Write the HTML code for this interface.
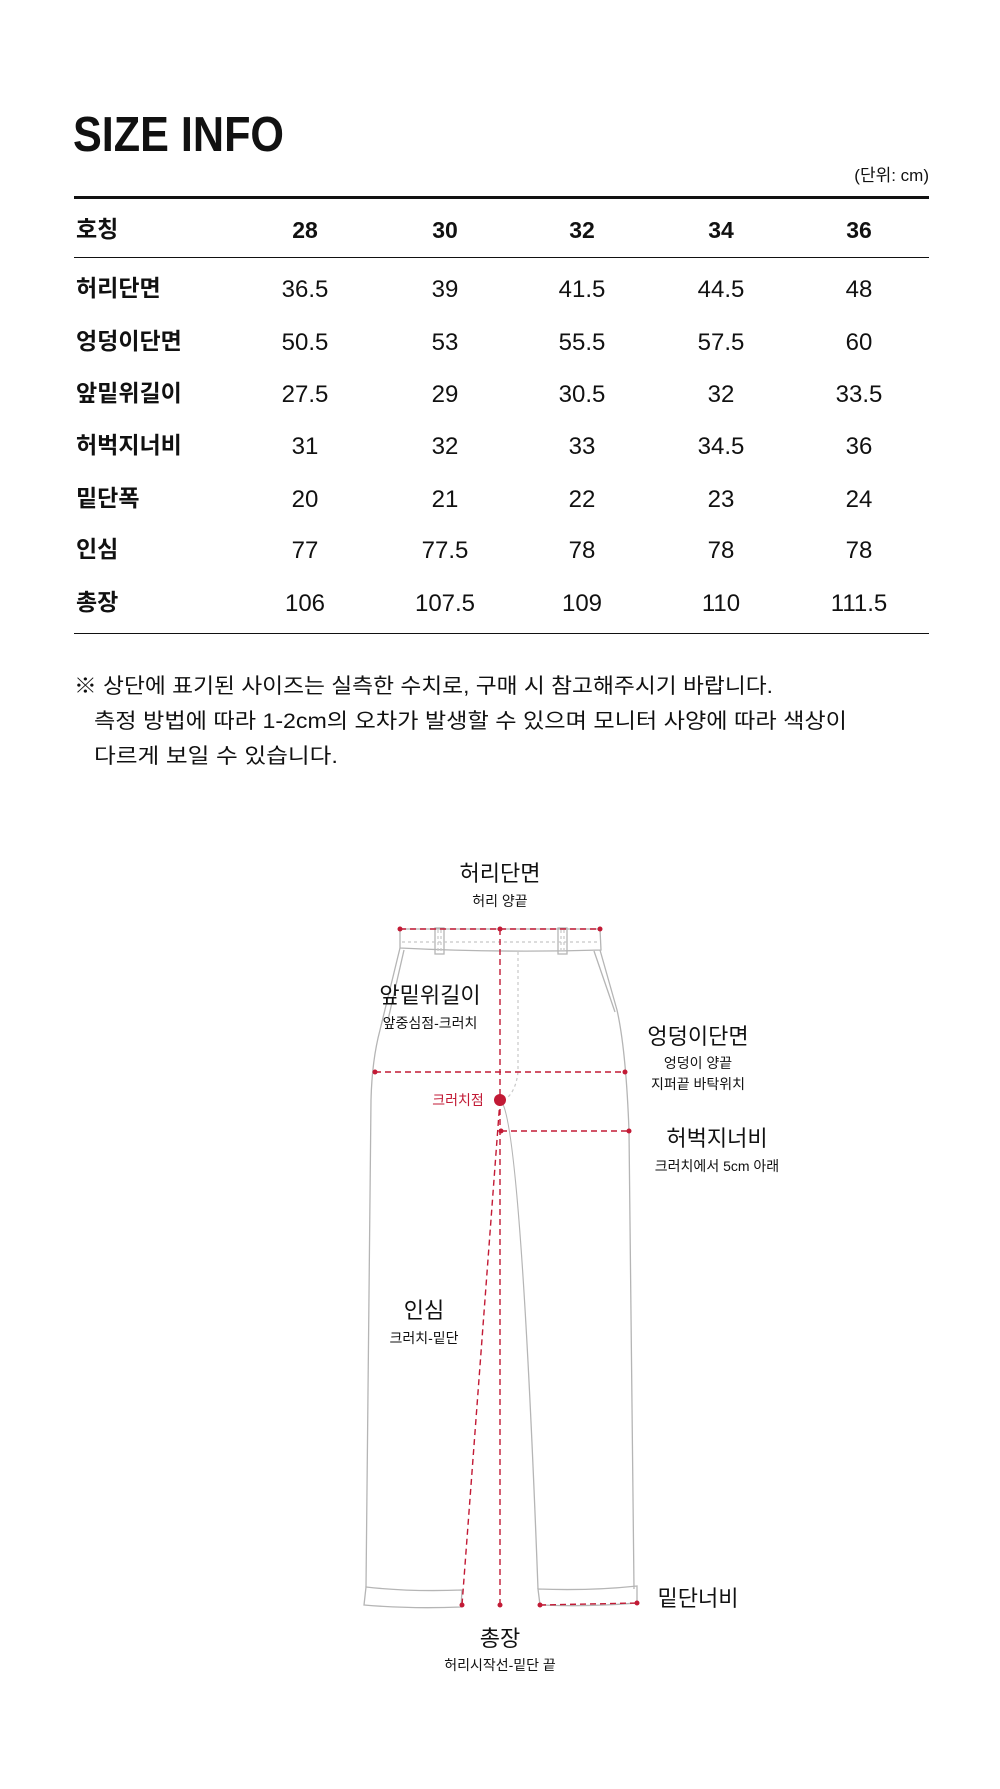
<!DOCTYPE html>
<html><head><meta charset="utf-8"><style>
html,body{margin:0;padding:0;background:#fff}
svg{display:block}
text{font-family:"Liberation Sans","Noto Sans CJK KR",sans-serif;fill:#111}
</style></head><body>
<svg width="1000" height="1789" viewBox="0 0 1000 1789" xmlns="http://www.w3.org/2000/svg">
<text x="73" y="151" font-size="49" font-weight="bold" textLength="211" lengthAdjust="spacingAndGlyphs">SIZE INFO</text>
<text x="929" y="181" font-size="17" text-anchor="end">(단위: cm)</text>
<rect x="74" y="196" width="855" height="3" fill="#111"/>
<g font-size="23">
<text x="76" y="237" font-weight="bold">호칭</text>
<g font-weight="bold" text-anchor="middle">
<text x="305" y="238">28</text><text x="445" y="238">30</text><text x="582" y="238">32</text><text x="721" y="238">34</text><text x="859" y="238">36</text>
</g>
</g>
<rect x="74" y="257" width="855" height="1" fill="#111"/>
<g font-size="24">
<g font-weight="bold" font-size="23">
<text x="76" y="296">허리단면</text>
<text x="76" y="349">엉덩이단면</text>
<text x="76" y="401">앞밑위길이</text>
<text x="76" y="453">허벅지너비</text>
<text x="76" y="506">밑단폭</text>
<text x="76" y="557">인심</text>
<text x="76" y="610">총장</text>
</g>
<g text-anchor="middle" fill="#222">
<text x="305" y="297">36.5</text><text x="445" y="297">39</text><text x="582" y="297">41.5</text><text x="721" y="297">44.5</text><text x="859" y="297">48</text>
<text x="305" y="350">50.5</text><text x="445" y="350">53</text><text x="582" y="350">55.5</text><text x="721" y="350">57.5</text><text x="859" y="350">60</text>
<text x="305" y="402">27.5</text><text x="445" y="402">29</text><text x="582" y="402">30.5</text><text x="721" y="402">32</text><text x="859" y="402">33.5</text>
<text x="305" y="454">31</text><text x="445" y="454">32</text><text x="582" y="454">33</text><text x="721" y="454">34.5</text><text x="859" y="454">36</text>
<text x="305" y="507">20</text><text x="445" y="507">21</text><text x="582" y="507">22</text><text x="721" y="507">23</text><text x="859" y="507">24</text>
<text x="305" y="558">77</text><text x="445" y="558">77.5</text><text x="582" y="558">78</text><text x="721" y="558">78</text><text x="859" y="558">78</text>
<text x="305" y="611">106</text><text x="445" y="611">107.5</text><text x="582" y="611">109</text><text x="721" y="611">110</text><text x="859" y="611">111.5</text>
</g>
</g>
<rect x="74" y="633" width="855" height="1" fill="#111"/>
<g font-size="21" fill="#222">
<text x="74" y="693" textLength="699" lengthAdjust="spacingAndGlyphs">※ 상단에 표기된 사이즈는 실측한 수치로, 구매 시 참고해주시기 바랍니다.</text>
<text x="94" y="728" textLength="753" lengthAdjust="spacingAndGlyphs">측정 방법에 따라 1-2cm의 오차가 발생할 수 있으며 모니터 사양에 따라 색상이</text>
<text x="94" y="763" textLength="244" lengthAdjust="spacingAndGlyphs">다르게 보일 수 있습니다.</text>
</g>

<!-- pants outline -->
<g fill="none" stroke="#b5b5b5" stroke-width="1.3">
<path d="M400,929 L600,929 L601,950 Q500,953 400,948 Z"/>
<rect x="435" y="928" width="9" height="26"/>
<rect x="558" y="928" width="9" height="26"/>
<path d="M400,948 L380,1030 Q372,1060 371,1100 L366,1587"/>
<path d="M404,950 L388,1020"/>
<path d="M600,950 L617,1010 Q626,1050 629,1131 L634,1589"/>
<path d="M594,951 L615,1012"/>
<path d="M500,1100 Q520,1110 538,1589"/>
<path d="M366,1587 Q410,1592 462,1590 L461,1607 Q410,1609 364,1605 Z"/>
<path d="M538,1589 Q590,1591 637,1586 L637,1603 Q590,1607 540,1605 Z"/>
</g>
<g fill="none" stroke="#c8c8c8" stroke-width="1.2" stroke-dasharray="3,3">
<path d="M402,942 L598,942"/>
<path d="M518,952 L518,1072 Q516,1090 507,1098"/>
<path d="M438,930 L438,952 M441,930 L441,952 M561,930 L561,952 M564,930 L564,952"/>
</g>
<!-- red measures -->
<g fill="none" stroke="#c21a35" stroke-width="1.4" stroke-dasharray="6,4">
<path d="M400,929 L600,929"/>
<path d="M500,929 L500,1605"/>
<path d="M375,1072 L625,1072"/>
<path d="M501,1131 L629,1131"/>
<path d="M500,1100 L462,1605"/>
<path d="M540,1605 L637,1603"/>
</g>
<g fill="#c21a35">
<circle cx="400" cy="929" r="2.5"/><circle cx="500" cy="929" r="2.5"/><circle cx="600" cy="929" r="2.5"/>
<circle cx="375" cy="1072" r="2.5"/><circle cx="625" cy="1072" r="2.5"/>
<circle cx="500" cy="1100" r="6"/>
<circle cx="501" cy="1131" r="2.5"/><circle cx="629" cy="1131" r="2.5"/>
<circle cx="462" cy="1605" r="2.5"/><circle cx="500" cy="1605" r="2.5"/>
<circle cx="540" cy="1605" r="2.5"/><circle cx="637" cy="1603" r="2.5"/>
</g>
<!-- labels -->
<g text-anchor="middle">
<text x="500" y="881" font-size="22">허리단면</text>
<text x="500" y="906" font-size="14">허리 양끝</text>
<text x="430" y="1003" font-size="22">앞밑위길이</text>
<text x="430" y="1028" font-size="14">앞중심점-크러치</text>
<text x="698" y="1044" font-size="22">엉덩이단면</text>
<text x="698" y="1068" font-size="14">엉덩이 양끝</text>
<text x="698" y="1089" font-size="14">지퍼끝 바탁위치</text>
<text x="458" y="1105" font-size="14" fill="#c21a35" style="fill:#c21a35">크러치점</text>
<text x="717" y="1146" font-size="22">허벅지너비</text>
<text x="717" y="1171" font-size="14">크러치에서 5cm 아래</text>
<text x="424" y="1318" font-size="22">인심</text>
<text x="424" y="1343" font-size="14">크러치-밑단</text>
<text x="698" y="1606" font-size="22">밑단너비</text>
<text x="500" y="1646" font-size="22">총장</text>
<text x="500" y="1670" font-size="14">허리시작선-밑단 끝</text>
</g>
</svg>
</body></html>
